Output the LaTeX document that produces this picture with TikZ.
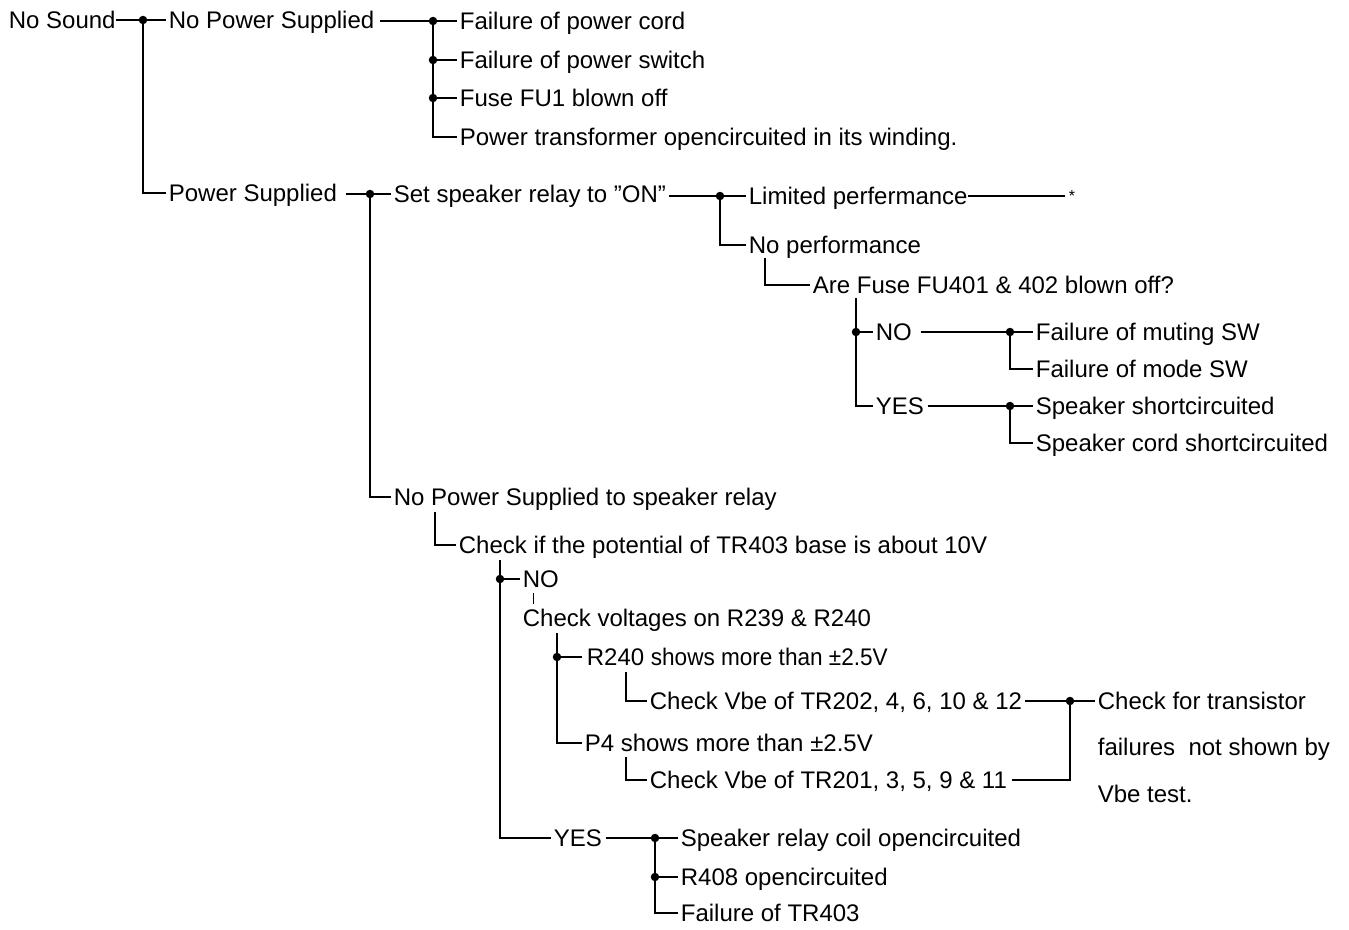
\documentclass[tikz,border=0pt]{standalone}
\usepackage{fontspec}
\setmainfont{Liberation Sans}
\begin{document}
\begin{tikzpicture}[x=1pt,y=-1pt,line width=1.7pt,
  t/.style={inner sep=0pt,anchor=west,text height=17pt,text depth=0pt,font=\fontsize{24}{28}\selectfont},
  dot/.style={circle,fill,inner sep=0pt,minimum size=8.5pt},
  gap/.style={shorten >=2pt}]
\useasboundingbox (0,0) rectangle (1349,929);
% texts
\node[t] (ns) at (8,20) {No Sound};
\node[t] (nps) at (168,20) {No Power Supplied};
\node[t] (ps) at (168,193) {Power Supplied};
\node[t] (f1) at (459,21) {Failure of power cord};
\node[t] (f2) at (459,60) {Failure of power switch};
\node[t] (f3) at (459,98) {Fuse FU1 blown off};
\node[t] (f4) at (459,137) {Power transformer opencircuited in its winding.};
\node[t] (ssr) at (393,194) {Set speaker relay to ”ON”};
\node[t] (lp) at (748,196) {Limited perfermance};
\node[t,font=\fontsize{16}{18}\selectfont] (star) at (1068,193) {*};
\node[t] (np) at (748,245) {No performance};
\node[t] (af) at (812,285) {Are Fuse FU401 \& 402 blown off?};
\node[t] (no1) at (875,332) {NO};
\node[t] (fm) at (1035,332) {Failure of muting SW};
\node[t] (fmo) at (1035,369) {Failure of mode SW};
\node[t] (yes1) at (875,406) {YES};
\node[t] (ss) at (1035,406) {Speaker shortcircuited};
\node[t] (sc) at (1035,443) {Speaker cord shortcircuited};
\node[t] (npr) at (393,497) {No Power Supplied to speaker relay};
\node[t] (ck) at (458,545) {Check if the potential of TR403 base is about 10V};
\node[t] (no2) at (522,579) {NO};
\node[t] (cv) at (522,618) {Check voltages on R239 \& R240};
\node[t] (r240) at (586,657) {R240 \scalebox{0.94}[1]{shows more than ±2.5V}};
\node[t] (cb1) at (649,701) {Check Vbe of TR202, 4, 6, 10 \& 12};
\node[t] (p4) at (584,743) {P4 shows more than ±2.5V};
\node[t] (cb2) at (649,780) {Check Vbe of TR201, 3, 5, 9 \& 11};
\node[t] (cft) at (1097,701) {Check for transistor};
\node[t] (fns) at (1097,747) {failures\ \ not shown by};
\node[t] (vbt) at (1097,794) {Vbe test.};
\node[t] (yes2) at (553,838) {YES};
\node[t] (src) at (680,838) {Speaker relay coil opencircuited};
\node[t] (r408) at (680,877) {R408 opencircuited};
\node[t] (ftr) at (680,913) {Failure of TR403};
% junctions
\coordinate (j1) at (143,20);
\coordinate (j2) at (433,21);
\coordinate (j3) at (370,194);
\coordinate (j4) at (720,196);
\coordinate (c5) at (765,258);
\coordinate (c6) at (856,298);
\coordinate (j7) at (1010,332);
\coordinate (j8) at (1010,406);
\coordinate (c9) at (435,512);
\coordinate (c10) at (500,560);
\coordinate (c11) at (557,633);
\coordinate (c12) at (626,672);
\coordinate (j13) at (1070,701);
\coordinate (c14) at (626,757);
\coordinate (j15) at (655,838);
% connectors
\draw[gap] (ns.east) -- (j1) -- (nps.west);
\draw[gap] (j1) |- (ps.west);
\draw[gap] ([xshift=5pt]nps.east |- j2) -- (j2) -- (f1.west);
\draw[gap] (j2) |- (f4.west);
\draw[gap] (j2 |- f2.west) -- (f2.west);
\draw[gap] (j2 |- f3.west) -- (f3.west);
\draw[gap] ([xshift=8pt]ps.east |- j3) -- (j3) -- (ssr.west);
\draw[gap] (j3) |- (npr.west);
\draw[gap] ([xshift=2pt]ssr.east |- j4) -- (j4) -- (lp.west);
\draw[gap] (j4) |- (np.west);
\draw[shorten >=3pt] (lp.east) -- (lp.east -| star.west);
\draw[gap] (c5) |- (af.west);
\draw[gap] (c6) |- (yes1.west);
\draw[gap] (c6 |- no1.west) -- (no1.west);
\draw[gap] ([xshift=8pt]no1.east) -- (j7) -- (fm.west);
\draw[gap] (j7) |- (fmo.west);
\draw[gap] ([xshift=3pt]yes1.east) -- (j8) -- (ss.west);
\draw[gap] (j8) |- (sc.west);
\draw[gap] (c9) |- (ck.west);
\draw[gap] (c10) |- (yes2.west);
\draw[gap] (c10 |- no2.west) -- (no2.west);
\draw[line width=1pt,shorten <=5pt,shorten >=5pt] ([xshift=11pt]no2.south west) -- ([xshift=11pt]cv.north west);
\draw[gap] (c11) |- (p4.west);
\draw[shorten >=4pt] (c11 |- r240.west) -- (r240.west);
\draw[gap] (c12) |- (cb1.west);
\draw[gap] (c14) |- (cb2.west);
\draw[gap] ([xshift=2pt]cb1.east) -- (j13) -- (cft.west);
\draw ([xshift=4pt]cb2.east) -| (j13);
\draw[gap] ([xshift=3pt]yes2.east) -- (j15) -- (src.west);
\draw[gap] (j15) |- (ftr.west);
\draw[gap] (j15 |- r408.west) -- (r408.west);
% dots
\foreach \p in {j1,j2,j3,j4,j7,j8,j13,j15}{\node[dot] at (\p) {};}
\node[dot] at (j2 |- f2.west) {};
\node[dot] at (j2 |- f3.west) {};
\node[dot] at (c6 |- no1.west) {};
\node[dot] at (c10 |- no2.west) {};
\node[dot] at (c11 |- r240.west) {};
\node[dot] at (j15 |- r408.west) {};
\end{tikzpicture}
\end{document}
